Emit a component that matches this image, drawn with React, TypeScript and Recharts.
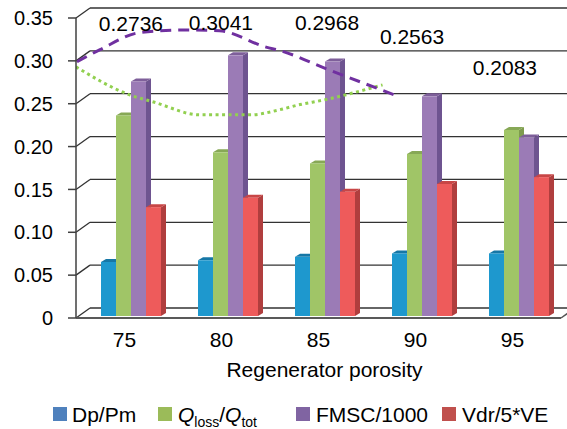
import {Bar, CartesianGrid, ComposedChart, Label, Line, ReferenceDot, XAxis, YAxis} from "recharts";

const porosity = [75, 80, 85, 90, 95];
const dpPm = [0.063, 0.065, 0.069, 0.073, 0.073];
const qLoss = [0.234, 0.191, 0.178, 0.189, 0.217];
const fmsc = [0.2736, 0.3041, 0.2968, 0.2563, 0.2083];
const vdr = [0.127, 0.138, 0.145, 0.154, 0.162];
const yTicks = [0, 0.05, 0.1, 0.15, 0.2, 0.25, 0.3, 0.35];

// trend lines (x in porosity units)
const fmscTrendX = [72.55, 73.74, 75.8, 78.2, 79.9, 82.3, 83.0, 85.6, 88.94];
const fmscTrendY = [0.299, 0.313, 0.333, 0.336, 0.335, 0.316, 0.312, 0.289, 0.26];
const qTrendX = [72.5, 75.3, 76.5, 78.9, 81.5, 83.0, 84.05, 85.2, 88.3];
const qTrendY = [0.293, 0.26, 0.252, 0.237, 0.237, 0.243, 0.249, 0.254, 0.272];

// where the fmsc value labels sit
const labelX = [75.33, 79.97, 85.44, 89.82, 94.61];
const labelY = [0.344, 0.345, 0.345, 0.328, 0.292];

const data = porosity.map((p, i) => ({porosity: p, dpPm: dpPm[i], qLoss: qLoss[i], fmsc: fmsc[i], vdr: vdr[i]}));
const fmscTrend = fmscTrendX.map((x, i) => ({x, v: fmscTrendY[i]}));
const qTrend = qTrendX.map((x, i) => ({x, v: qTrendY[i]}));

const font = "'Liberation Sans', Arial, sans-serif";
const W = 567, H = 429;
const margin = {top: 18, right: 6, bottom: 47, left: 0};
const xAxisH = 64;
const plotBottom = H - margin.bottom - xAxisH;

const bar3d = (front: string, top: string, side: string) => (props: any) => {
    const {x, y, width, height} = props;
    if (height == null || width == null) return <g/>;
    const bx = x + 6, by = y - 2, d = 5, e = 3;
    return <g>
        <polygon points={`${bx + width},${by} ${bx + width + d},${by - e} ${bx + width + d},${by + height - e} ${bx + width},${by + height}`} fill={side}/>
        <polygon points={`${bx},${by} ${bx + d},${by - e} ${bx + width + d},${by - e} ${bx + width},${by}`} fill={top}/>
        <rect x={bx} y={by} width={width} height={height} fill={front}/>
    </g>
};

// back wall gridlines with the little 3D diagonals
const gridLine = (props: any) => {
    const {x1, y1, x2} = props;
    const floor = Math.abs(y1 - plotBottom) < 1;
    return <g key={props.key}>
        <line x1={x1} y1={y1} x2={x1 + 14} y2={y1 - 10} stroke="#333" strokeWidth={1.3}/>
        <line x1={x1 + 14} y1={y1 - 10} x2={x2 + 14} y2={y1 - 10} stroke="#333" strokeWidth={1.3}/>
        {floor && <line x1={x2} y1={y1} x2={x2 + 14} y2={y1 - 10} stroke="#555" strokeWidth={1.5}/>}
    </g>
};

const legendItems = [
    {color: "#4F81BD", left: 53},
    {color: "#9BBB59", left: 158},
    {color: "#8064A2", left: 296},
    {color: "#C0504D", left: 442},
];

const sub = {fontSize: 14, position: "relative" as const, top: 5};
const legendText = {position: "absolute" as const, top: 404, fontSize: 21, lineHeight: "21px", whiteSpace: "nowrap" as const};

export default function App() {
    return <div style={{position: "absolute", left: 0, top: 0, width: W, height: H, fontFamily: font, background: "#fff"}}>
        <ComposedChart width={W} height={H} data={data} margin={margin}
                       barSize={15} barGap={0} style={{fontFamily: font}}>
            <CartesianGrid vertical={false} horizontal={gridLine}/>
            <XAxis dataKey="porosity" height={xAxisH} tickLine={false} tickSize={0} tickMargin={14}
                   axisLine={{stroke: "#595959", strokeWidth: 2}}
                   tick={{fill: "#000", fontSize: 21, fontFamily: font}}>
                <Label value="Regenerator porosity" position="insideBottom" offset={5} dx={6}
                       fill="#000" fontSize={21} fontFamily={font}/>
            </XAxis>
            <XAxis xAxisId="t" type="number" dataKey="x" domain={[72.5, 97.5]} hide allowDataOverflow/>
            <YAxis width={76} domain={[0, 0.35]} ticks={yTicks} tickSize={8} tickMargin={15}
                   axisLine={{stroke: "#404040", strokeWidth: 1.5}} tickLine={{stroke: "#404040", strokeWidth: 1.5}}
                   tick={{fill: "#000", fontSize: 20, fontFamily: font}}
                   tickFormatter={(v: number) => v === 0 ? "0" : v.toFixed(2)}/>
            <Line xAxisId="t" data={qTrend} dataKey="v" type="monotone" stroke="#92D050" strokeWidth={3}
                  strokeDasharray="3 3.5" dot={false} isAnimationActive={false} legendType="none"/>
            <Bar dataKey="dpPm" shape={bar3d("#1E98CE", "#1677A6", "#16709A")} isAnimationActive={false}/>
            <Bar dataKey="qLoss" shape={bar3d("#A0C567", "#87A856", "#7E9C4E")} isAnimationActive={false}/>
            <Bar dataKey="fmsc" shape={bar3d("#9B7BB6", "#7E5F9A", "#6E5490")} isAnimationActive={false}/>
            <Bar dataKey="vdr" shape={bar3d("#EE5B5B", "#C84646", "#B03E3E")} isAnimationActive={false}/>
            <Line xAxisId="t" data={fmscTrend} dataKey="v" type="monotone" stroke="#7030A0" strokeWidth={3}
                  strokeDasharray="11 7" dot={false} isAnimationActive={false} legendType="none"/>
            {labelX.map((lx, i) =>
                <ReferenceDot key={i} xAxisId="t" x={lx} y={labelY[i]} r={0} fill="none" stroke="none">
                    <Label value={fmsc[i].toFixed(4)} position="center" fill="#000" fontSize={21} fontFamily={font}/>
                </ReferenceDot>
            )}
        </ComposedChart>
        {legendItems.map((it, i) =>
            <div key={i} style={{position: "absolute", left: it.left, top: 407, width: 14, height: 14, background: it.color}}/>
        )}
        <div style={{...legendText, left: 72}}>Dp/Pm</div>
        <div style={{...legendText, left: 178}}>
            <i>Q</i><span style={sub}>loss</span>/<i>Q</i><span style={sub}>tot</span>
        </div>
        <div style={{...legendText, left: 316}}>FMSC/1000</div>
        <div style={{...legendText, left: 462}}>Vdr/5*VE</div>
    </div>
}
